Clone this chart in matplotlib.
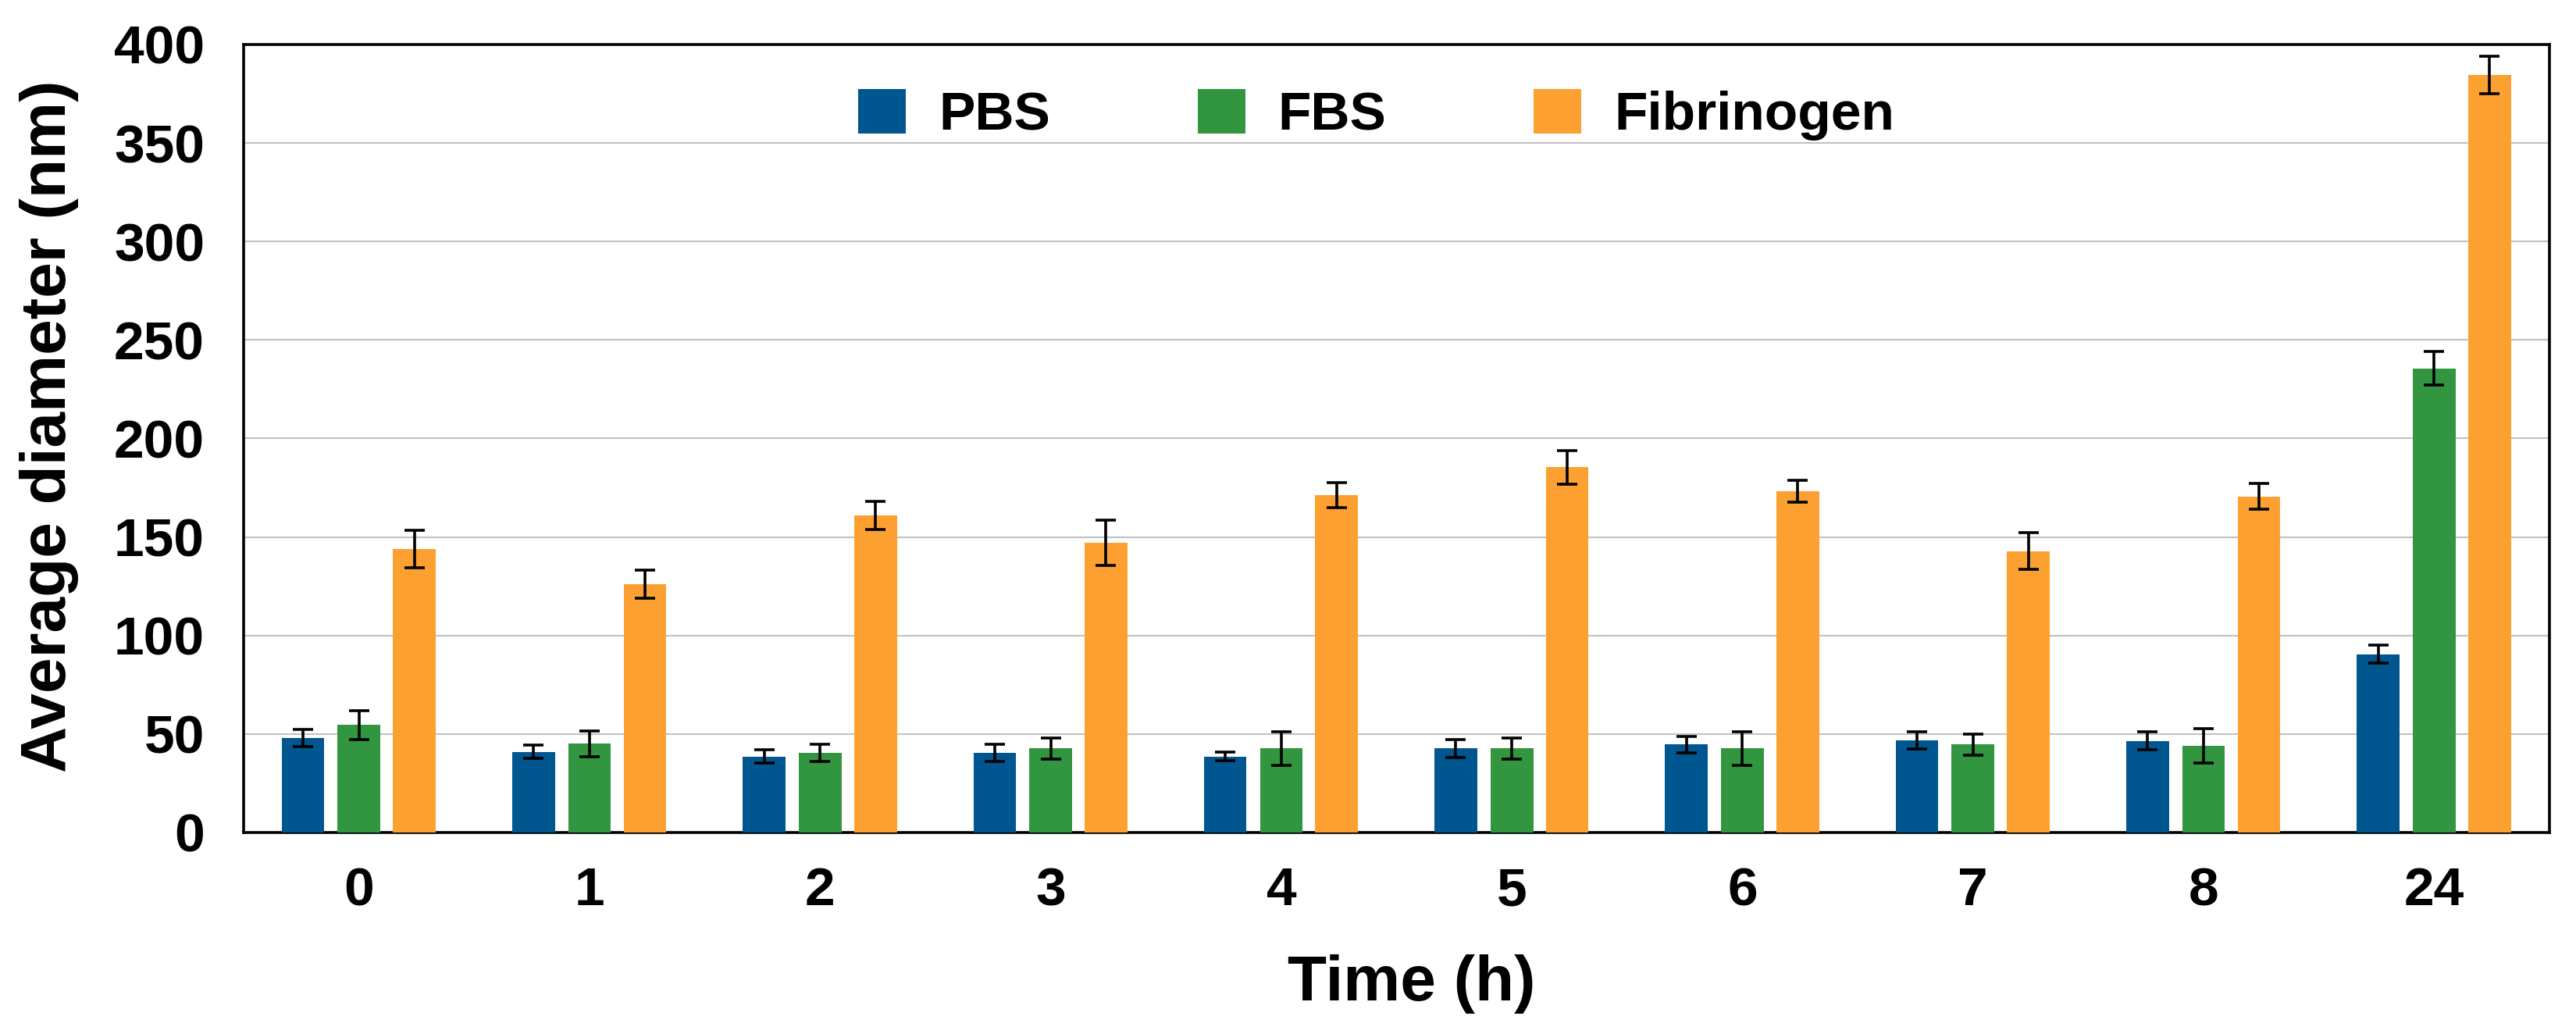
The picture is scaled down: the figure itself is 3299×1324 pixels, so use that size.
import numpy as np
import matplotlib
matplotlib.use("Agg")
import matplotlib.pyplot as plt

plt.rcParams['font.family'] = ['Liberation Sans', 'DejaVu Sans']
plt.rcParams['font.weight'] = 'bold'

# ----- data -----
times = ['0', '1', '2', '3', '4', '5', '6', '7', '8', '24']
series = ['PBS', 'FBS', 'Fibrinogen']

pbs = [48, 41, 38.6, 40.5, 38.6, 42.6, 44.6, 46.8, 46.5, 90.5]
pbs_err = [4.3, 3.3, 3.3, 4.3, 2.3, 4.4, 4.3, 4.3, 4.5, 4.5]
fbs = [54.5, 45, 40.5, 42.6, 42.6, 42.6, 42.6, 44.6, 44, 235.5]
fbs_err = [7.3, 6.4, 4.3, 5.4, 8.4, 5.4, 8.5, 5.3, 8.6, 8.5]
fib = [144, 126, 160.9, 147, 171.2, 185.4, 173.2, 142.8, 170.5, 384.5]
fib_err = [9.5, 7, 7.3, 11.4, 6.3, 8.6, 5.5, 9.4, 6.5, 9.5]

colors = ['#00568F', '#31963F', '#FCA131']

fig = plt.figure(figsize=(32.99, 13.24), dpi=100)
ax = fig.add_axes([0.0946, 0.1949, 0.8951, 0.7621])

x = np.arange(len(times))
w = 0.185
offs = [-0.243, 0.0, 0.24]
ekw = dict(ecolor='black', elinewidth=2.6, capsize=9.5, capthick=2.6, zorder=4)

for vals, errs, c, off, lab in zip([pbs, fbs, fib], [pbs_err, fbs_err, fib_err],
                                   colors, offs, series):
    ax.bar(x + off, vals, w, color=c, label=lab, zorder=3,
           yerr=errs, error_kw=ekw)

ax.set_xlim(-0.5, 9.5)
ax.set_ylim(0, 400)
ax.set_yticks(np.arange(0, 401, 50))
ax.set_xticks(x)
ax.set_xticklabels(times)
ax.grid(axis='y', color='#C2C2C2', linewidth=1.5, zorder=0)
ax.set_axisbelow(True)
for s in ax.spines.values():
    s.set_linewidth(2.6)
    s.set_color('black')

ax.tick_params(axis='both', length=0, labelsize=50)
ax.tick_params(axis='y', pad=36)
ax.tick_params(axis='x', pad=31)
for t in ax.get_xticklabels() + ax.get_yticklabels():
    t.set_fontweight('bold')

ax.set_ylabel('Average diameter (nm)', fontsize=59, fontweight='bold')
ax.set_xlabel('Time (h)', fontsize=59, fontweight='bold')
ax.yaxis.set_label_coords(-0.0714, 0.516)
ax.xaxis.set_label_coords(0.5066, -0.1546)
ax.xaxis.label.set_va('top')

ax.legend(loc='center', bbox_to_anchor=(0.4912, 0.9108), ncol=3, frameon=False,
          prop={'size': 50, 'weight': 'bold'}, handlelength=0.88,
          handleheight=0.89, handletextpad=0.6, columnspacing=2.72,
          borderpad=0, borderaxespad=0)

fig.savefig('out.png', dpi=100)
